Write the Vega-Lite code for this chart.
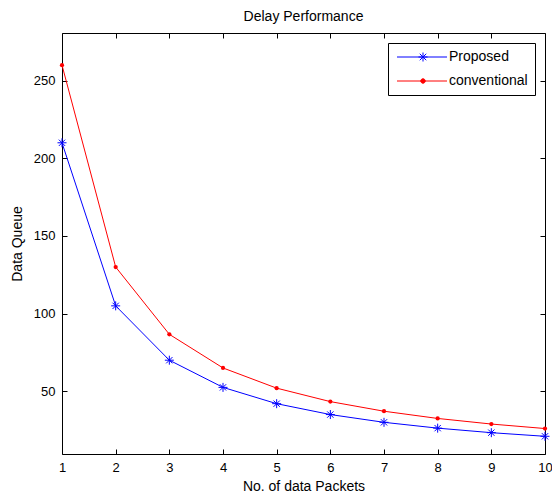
{
  "$schema": "https://vega.github.io/schema/vega-lite/v6.json",
  "width": 483,
  "height": 421,
  "autosize": {"type": "none"},
  "padding": {"left": 62, "top": 33, "right": 7, "bottom": 48},
  "background": "white",
  "title": {"text": "Delay Performance", "fontSize": 14, "font": "Liberation Sans", "fontWeight": "normal", "color": "black", "offset": 9},
  "config": {
    "view": {"stroke": null},
    "axis": {"domainColor": "black", "tickColor": "black", "labelColor": "black", "titleColor": "black", "labelFont": "Liberation Sans", "titleFont": "Liberation Sans", "labelFontSize": 13, "titleFontSize": 14, "titleFontWeight": "normal", "grid": false, "tickSize": -5, "labelPadding": 12, "domainWidth": 1, "tickWidth": 1},
    "legend": {"orient": "top-right", "offset": 10, "strokeColor": "black", "fillColor": "white", "padding": 7, "labelFont": "Liberation Sans", "labelFontSize": 14, "labelColor": "black", "symbolSize": 100, "symbolStrokeWidth": 1, "labelOffset": 40, "rowPadding": 10, "cornerRadius": 0}
  },
  "data": {"values": [
    {"n": 1, "series": "Proposed", "value": 210},
    {"n": 2, "series": "Proposed", "value": 105},
    {"n": 3, "series": "Proposed", "value": 70},
    {"n": 4, "series": "Proposed", "value": 52.5},
    {"n": 5, "series": "Proposed", "value": 42},
    {"n": 6, "series": "Proposed", "value": 35},
    {"n": 7, "series": "Proposed", "value": 30},
    {"n": 8, "series": "Proposed", "value": 26.25},
    {"n": 9, "series": "Proposed", "value": 23.33},
    {"n": 10, "series": "Proposed", "value": 21},
    {"n": 1, "series": "conventional", "value": 260},
    {"n": 2, "series": "conventional", "value": 130},
    {"n": 3, "series": "conventional", "value": 86.67},
    {"n": 4, "series": "conventional", "value": 65},
    {"n": 5, "series": "conventional", "value": 52},
    {"n": 6, "series": "conventional", "value": 43.33},
    {"n": 7, "series": "conventional", "value": 37.14},
    {"n": 8, "series": "conventional", "value": 32.5},
    {"n": 9, "series": "conventional", "value": 28.89},
    {"n": 10, "series": "conventional", "value": 26}
  ]},
  "encoding": {
    "x": {"field": "n", "type": "quantitative", "scale": {"domain": [1, 10], "nice": false, "zero": false}},
    "y": {"field": "value", "type": "quantitative", "scale": {"domain": [9.6, 280.7], "nice": false, "zero": false}},
    "color": {"field": "series", "type": "nominal", "scale": {"domain": ["Proposed", "conventional"], "range": ["#0000ff", "#ff0000"]},
      "legend": {"title": null, "encode": {"symbols": {"update": {
        "shape": {"signal": "datum.value === 'Proposed' ? 'M-1,0H9M4.2,-0.9V0.9M3.3,0H5.1M3.55,-0.65L4.85,0.65M3.55,0.65L4.85,-0.65' : 'M-1,0H9M3.75,0A0.45,0.45,0,1,1,4.65,0A0.45,0.45,0,1,1,3.75,0Z'"},
        "fill": {"signal": "datum.value === 'Proposed' ? 'transparent' : '#ff0000'"},
        "stroke": {"signal": "datum.value === 'Proposed' ? '#0000ff' : '#ff0000'"},
        "strokeWidth": {"value": 1},
        "opacity": {"value": 1}
      }}}}}
  },
  "layer": [
    {
      "mark": {"type": "line", "strokeWidth": 1},
      "encoding": {
        "x": {"field": "n", "type": "quantitative", "axis": {"orient": "bottom", "title": "No. of data Packets", "values": [1,2,3,4,5,6,7,8,9,10], "labelFlush": false, "titlePadding": 5}},
        "y": {"field": "value", "type": "quantitative", "axis": {"orient": "left", "title": "Data Queue", "values": [50,100,150,200,250], "titlePadding": 9}}
      }
    },
    {
      "transform": [{"filter": "datum.series === 'Proposed'"}],
      "mark": {"type": "point", "shape": "M0,-1V1M-1,0H1M-0.7,-0.7L0.7,0.7M-0.7,0.7L0.7,-0.7", "filled": false, "strokeWidth": 1, "size": 81, "opacity": 1},
      "encoding": {
        "x": {"field": "n", "type": "quantitative", "axis": {"orient": "top", "title": null, "labels": false, "values": [1,2,3,4,5,6,7,8,9,10]}},
        "y": {"field": "value", "type": "quantitative", "axis": {"orient": "right", "title": null, "labels": false, "values": [50,100,150,200,250]}}
      }
    },
    {
      "transform": [{"filter": "datum.series === 'conventional'"}],
      "mark": {"type": "circle", "size": 18, "opacity": 1},
      "encoding": {
        "x": {"field": "n", "type": "quantitative", "axis": null},
        "y": {"field": "value", "type": "quantitative", "axis": null}
      }
    }
  ],
  "resolve": {"axis": {"x": "independent", "y": "independent"}}
}
